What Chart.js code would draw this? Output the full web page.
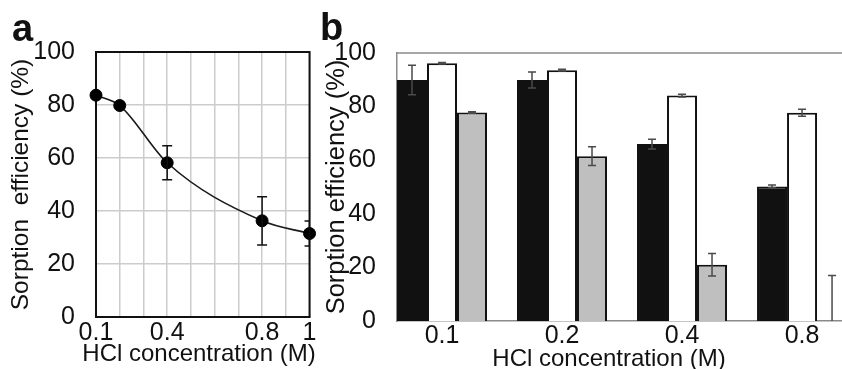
<!DOCTYPE html>
<html>
<head>
<meta charset="utf-8">
<script src="https://cdn.jsdelivr.net/npm/chart.js@4.4.1/dist/chart.umd.min.js"></script>
<style>
  html, body { margin: 0; padding: 0; background: #fff; }
  #wrap { position: relative; width: 842px; height: 369px; overflow: hidden; font-family: 'Liberation Sans', Arial, sans-serif; color: #111; }
  .panel { position: absolute; top: 0; height: 369px; }
  #panelA { left: 0; width: 320px; }
  #panelB { left: 320px; width: 522px; }
  .tag { position: absolute; font-weight: bold; font-size: 38px; line-height: 38px; }
  .xtitle { position: absolute; font-size: 24px; line-height: 24px; white-space: nowrap; transform: translateX(-50%); }
</style>
</head>
<body>
<div id="wrap">
  <div class="panel" id="panelA"><canvas id="chartA" width="320" height="369"></canvas></div>
  <div class="panel" id="panelB"><canvas id="chartB" width="522" height="369"></canvas></div>
  <div class="tag" style="left:12px;top:9px">a</div>
  <div class="tag" style="left:320px;top:8px">b</div>
  <div class="xtitle" style="left:199px;top:341px">HCl concentration (M)</div>
  <div class="xtitle" style="left:609px;top:346px">HCl concentration (M)</div>
</div>
<script>
// panel a: sorption vs HCl concentration
const concA = [0.1, 0.2, 0.4, 0.8, 1];
const effA = [83.7, 79.8, 58.2, 36.3, 31.5];
const errA = [0, 0, 6.4, 9.1, 4.7];
const xLabelsA = [0.1, 0.4, 0.8, 1];

// panel b: three sorbents per concentration
const catsB = ['0.1', '0.2', '0.4', '0.8'];
const blackB = [89.9, 89.9, 66.0, 50.2];
const blackErrB = [5.5, 3.0, 1.8, 0.5];
const whiteB = [96.2, 93.6, 84.1, 77.7];
const whiteErrB = [0.3, 0.3, 0.5, 1.3];
const grayB = [77.8, 61.5, 21.0, 0];
const grayErrB = [0.3, 3.5, 4.2, 17];

Chart.defaults.font.family = "'Liberation Sans', Arial, sans-serif";
Chart.defaults.color = '#111';

const errorBars = {
  id: 'errorBars',
  afterDatasetsDraw(chart, args, opts) {
    const { ctx, chartArea } = chart;
    const yScale = chart.scales.y;
    ctx.save();
    ctx.beginPath();
    ctx.rect(chartArea.left, chartArea.top - 10, chartArea.width, chartArea.height + 10);
    ctx.clip();
    ctx.strokeStyle = opts.color;
    ctx.lineWidth = opts.width;
    chart.data.datasets.forEach((ds, di) => {
      if (!ds.errors) return;
      const meta = chart.getDatasetMeta(di);
      meta.data.forEach((el, i) => {
        const e = ds.errors[i];
        if (!e) return;
        const v = meta.controller.getParsed(i).y;
        const top = yScale.getPixelForValue(v + e);
        const bot = yScale.getPixelForValue(v - e);
        const x = el.x;
        ctx.beginPath();
        ctx.moveTo(x, top); ctx.lineTo(x, bot);
        ctx.moveTo(x - opts.cap, top); ctx.lineTo(x + opts.cap, top);
        ctx.moveTo(x - opts.cap, bot); ctx.lineTo(x + opts.cap, bot);
        ctx.stroke();
      });
    });
    ctx.restore();
  }
};

// top/right edges of the plot box (axes only draw left/bottom)
const frame = {
  id: 'frame',
  beforeDatasetsDraw(chart, args, opts) {
    const { ctx, chartArea: a } = chart;
    ctx.save();
    ctx.strokeStyle = opts.color;
    ctx.lineWidth = opts.width;
    ctx.beginPath();
    ctx.moveTo(a.left, a.top);
    ctx.lineTo(a.right, a.top);
    if (opts.right) ctx.lineTo(a.right, a.bottom);
    ctx.stroke();
    ctx.restore();
  }
};

new Chart(document.getElementById('chartA'), {
  type: 'line',
  data: {
    datasets: [{
      data: concA.map((x, i) => ({ x, y: effA[i] })),
      errors: errA,
      borderColor: '#1a1a1a',
      borderWidth: 1.6,
      cubicInterpolationMode: 'monotone',
      pointRadius: 6,
      pointBackgroundColor: '#000',
      pointBorderColor: '#000',
      pointBorderWidth: 1,
      clip: false
    }]
  },
  options: {
    responsive: false,
    animation: false,
    layout: { padding: { left: 0, top: 52, right: 9, bottom: 0 } },
    plugins: {
      legend: { display: false },
      tooltip: { enabled: false },
      errorBars: { color: '#111', width: 1.5, cap: 5 },
      frame: { color: '#111', width: 2, right: true }
    },
    scales: {
      x: {
        type: 'linear', min: 0.1, max: 1,
        afterFit: s => { s.height = 52; },
        grid: { color: '#cccccc', lineWidth: 1.5, drawTicks: false },
        border: { color: '#111', width: 2 },
        ticks: {
          stepSize: 0.1, autoSkip: false, maxRotation: 0, minRotation: 0, padding: 3.5,
          font: { size: 25, lineHeight: 1 },
          callback: v => xLabelsA.some(t => Math.abs(t - v) < 1e-6) ? String(+v.toFixed(1)) : ''
        }
      },
      y: {
        min: 0, max: 100,
        afterFit: s => { s.width = 96; },
        grid: { color: '#cccccc', lineWidth: 1.5, drawTicks: false },
        border: { color: '#111', width: 2 },
        ticks: { stepSize: 20, padding: 21, font: { size: 25, lineHeight: 1 } },
        title: { display: true, text: 'Sorption  efficiency (%)', font: { size: 24.5, lineHeight: 1 }, padding: { top: 9, bottom: 0 } }
      }
    }
  },
  plugins: [errorBars, frame]
});

const barSet = (vals, errs, fill) => ({
  data: catsB.map((c, i) => ({ x: i, y: vals[i] })),
  errors: errs,
  backgroundColor: fill,
  borderColor: '#111',
  borderWidth: 2,
  barPercentage: 1,
  categoryPercentage: 0.75
});

new Chart(document.getElementById('chartB'), {
  type: 'bar',
  data: {
    datasets: [
      barSet(blackB, blackErrB, '#111111'),
      barSet(whiteB, whiteErrB, '#ffffff'),
      barSet(grayB, grayErrB, '#bfbfbf')
    ]
  },
  options: {
    responsive: false,
    animation: false,
    layout: { padding: { left: 0, top: 53, right: 0, bottom: 0 } },
    plugins: {
      legend: { display: false },
      tooltip: { enabled: false },
      errorBars: { color: '#4a4a4a', width: 1.5, cap: 4 },
      frame: { color: '#8a8a8a', width: 1.5, right: false }
    },
    scales: {
      x: {
        type: 'linear', min: -0.375, max: 3.333, offset: false,
        afterFit: s => { s.height = 48; },
        afterBuildTicks: s => { s.ticks = catsB.map((c, i) => ({ value: i })); },
        grid: { display: false, drawTicks: false },
        border: { color: '#8a8a8a', width: 1.5 },
        ticks: { autoSkip: false, maxRotation: 0, padding: 2.5, font: { size: 25, lineHeight: 1 }, callback: v => catsB[v] }
      },
      y: {
        min: 0, max: 100,
        afterFit: s => { s.width = 77; },
        grid: { display: false, drawTicks: false },
        border: { color: '#8a8a8a', width: 1.5 },
        ticks: { stepSize: 20, padding: 21, font: { size: 25, lineHeight: 1 } },
        title: { display: true, text: 'Sorption efficiency (%)', font: { size: 25.5, lineHeight: 1 }, padding: { top: 4, bottom: 0 } }
      }
    }
  },
  plugins: [errorBars, frame]
});
</script>
</body>
</html>
